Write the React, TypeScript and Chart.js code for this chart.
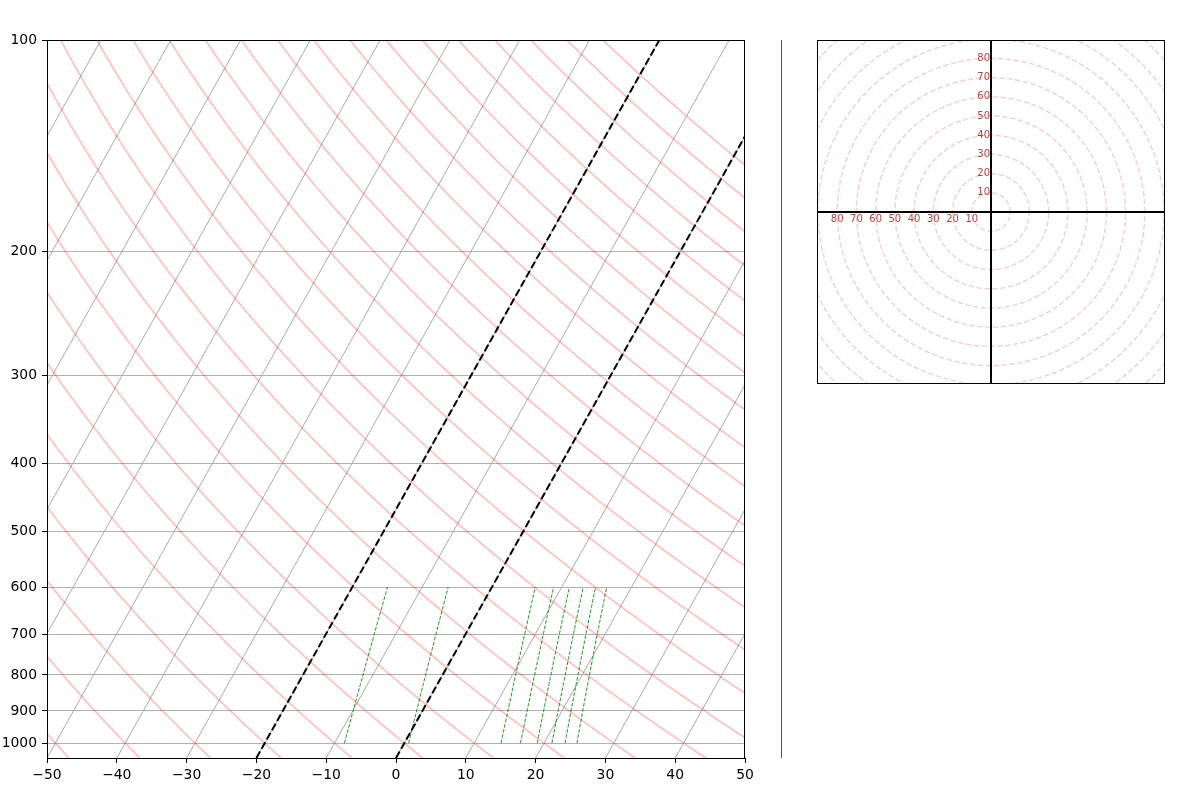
import React, { useEffect, useRef } from "react";
import { Chart, registerables } from "chart.js";

Chart.register(...registerables);

// ---- Skew-T axes ----
const P_TOP = 100;
const P_BOTTOM = 1050;
const SKEW_DEG = 30;
const X_MIN = -50;
const X_MAX = 50;

const yTicks = [100, 200, 300, 400, 500, 600, 700, 800, 900, 1000];
const xTicks = [-50, -40, -30, -20, -10, 0, 10, 20, 30, 40, 50];

// skewed grid isotherms (°C)
const isotherms = [-100, -90, -80, -70, -60, -50, -40, -30, -20, -10, 0, 10, 20, 30, 40, 50];
// highlighted dashed isotherms (°C)
const highlightIsotherms = [0, -20];
// dry adiabats: potential temperature (°C at 1000 hPa)
const dryAdiabats = [-50, -40, -30, -20, -10, 0, 10, 20, 30, 40, 50, 60, 70, 80, 90, 100, 110, 120, 130, 140, 150, 160, 170, 180, 190, 200];
// mixing ratio lines (g/kg) drawn from 1000 to 600 hPa
const mixingRatios = [2, 4, 10, 12, 14, 16, 18, 20];
const MIX_P_BOTTOM = 1000;
const MIX_P_TOP = 600;

// ---- Hodograph ----
const hodoRings = [10, 20, 30, 40, 50, 60, 70, 80, 90, 100, 110, 120, 130];
const hodoLabels = [10, 20, 30, 40, 50, 60, 70, 80];
const HODO_X_RANGE = 90.5;
const HODO_Y_RANGE = 89.6;

const FONT = "'DejaVu Sans', sans-serif";

function skewX(t: number, p: number): number {
  const frac = Math.log(P_BOTTOM / p) / Math.log(P_BOTTOM / P_TOP);
  return t + Math.tan((SKEW_DEG * Math.PI) / 180) * frac * (X_MAX - X_MIN);
}

function pressureLevels(pHigh: number, pLow: number, n: number): number[] {
  const out: number[] = [];
  for (let i = 0; i < n; i++) {
    out.push(Math.exp(Math.log(pLow) + ((Math.log(pHigh) - Math.log(pLow)) * i) / (n - 1)));
  }
  return out; // from pLow up to pHigh
}

function dewpointFromMixing(wGkg: number, p: number): number {
  const w = wGkg / 1000;
  const e = (p * w) / (0.622 + w);
  const l = Math.log(e / 6.112);
  return (243.5 * l) / (17.67 - l);
}

const minus = (v: number) => (v < 0 ? "\u2212" + Math.abs(v) : String(v));

const frame = {
  id: "frame",
  afterDraw(chart: any) {
    const { ctx, chartArea } = chart;
    ctx.save();
    ctx.strokeStyle = "#000";
    ctx.lineWidth = 1;
    const l = Math.round(chartArea.left) + 0.5;
    const t = Math.round(chartArea.top) + 0.5;
    const r = Math.round(chartArea.right) - 0.5;
    const b = Math.round(chartArea.bottom) + 0.5;
    ctx.strokeRect(l, t, r - l, b - t);
    ctx.restore();
  },
};

const hodoFrame = {
  id: "hodoFrame",
  afterDraw(chart: any) {
    const { ctx, chartArea, scales } = chart;
    ctx.save();
    ctx.fillStyle = "rgba(165,35,35,0.85)";
    ctx.font = `10px ${FONT}`;
    const x0 = scales.x.getPixelForValue(0);
    const y0 = scales.y.getPixelForValue(0);
    ctx.textBaseline = "middle";
    ctx.textAlign = "right";
    for (const r of hodoLabels) {
      ctx.fillText(String(r), x0 - 1, scales.y.getPixelForValue(r));
    }
    ctx.textAlign = "center";
    for (const r of hodoLabels) {
      ctx.fillText(String(r), scales.x.getPixelForValue(-r), y0 + 7.5);
    }
    ctx.strokeStyle = "#000";
    ctx.lineWidth = 1;
    ctx.strokeRect(chartArea.left + 0.5, chartArea.top + 0.5, chartArea.right - chartArea.left - 1, chartArea.bottom - chartArea.top - 1);
    ctx.restore();
  },
};

function SkewT() {
  const ref = useRef<HTMLCanvasElement>(null);
  useEffect(() => {
    if (!ref.current) return;
    const datasets: any[] = [];
    const levels = pressureLevels(P_BOTTOM, P_TOP, 90);

    for (const t of highlightIsotherms) {
      datasets.push({
        data: [
          { x: skewX(t, P_BOTTOM), y: P_BOTTOM },
          { x: skewX(t, P_TOP), y: P_TOP },
        ],
        borderColor: "#000",
        borderWidth: 2,
        borderDash: [7.4, 3.2],
        pointRadius: 0,
        clip: 0,
        order: 0,
      });
    }
    const mixLevels = pressureLevels(MIX_P_BOTTOM, MIX_P_TOP, 25).reverse();
    for (const w of mixingRatios) {
      datasets.push({
        data: mixLevels.map((p) => ({ x: skewX(dewpointFromMixing(w, p), p), y: p })),
        borderColor: "rgba(0,128,0,0.85)",
        borderWidth: 1,
        borderDash: [3.7, 1.6],
        pointRadius: 0,
        clip: 0,
        order: 1,
      });
    }
    for (const th of dryAdiabats) {
      const thK = th + 273.15;
      datasets.push({
        data: levels.map((p) => ({ x: skewX(thK * Math.pow(p / 1000, 0.2857) - 273.15, p), y: p })),
        borderColor: "rgba(255,0,0,0.24)",
        borderWidth: 1.8,
        pointRadius: 0,
        clip: 0,
        order: 2,
      });
    }
    for (const t of isotherms) {
      datasets.push({
        data: [
          { x: skewX(t, P_BOTTOM), y: P_BOTTOM },
          { x: skewX(t, P_TOP), y: P_TOP },
        ],
        borderColor: "#aaaaaa",
        borderWidth: 1,
        pointRadius: 0,
        clip: 0,
        order: 3,
      });
    }

    const chart = new Chart(ref.current, {
      type: "line",
      data: { datasets },
      options: {
        animation: false,
        responsive: false,
        maintainAspectRatio: false,
        events: [],
        layout: { padding: { left: 0, top: 40, right: 15, bottom: 0 } },
        plugins: { legend: { display: false }, tooltip: { enabled: false } },
        elements: { line: { tension: 0 }, point: { radius: 0 } },
        scales: {
          x: {
            type: "linear",
            min: X_MIN,
            max: X_MAX,
            afterBuildTicks: (s: any) => {
              s.ticks = xTicks.map((v) => ({ value: v }));
            },
            afterFit: (s: any) => {
              s.height = 40;
            },
            ticks: {
              autoSkip: false,
              maxRotation: 0,
              padding: 4,
              color: "#000",
              font: { family: FONT, size: 13.9 },
              callback: (v: any) => minus(Number(v)),
            },
            grid: { drawOnChartArea: false, drawTicks: true, tickLength: 5, tickColor: "#000", tickWidth: 1 },
            border: { display: false },
          },
          y: {
            type: "logarithmic",
            reverse: true,
            min: P_TOP,
            max: P_BOTTOM,
            afterBuildTicks: (s: any) => {
              s.ticks = yTicks.map((v) => ({ value: v }));
            },
            afterFit: (s: any) => {
              s.width = 47;
            },
            ticks: {
              autoSkip: false,
              padding: 5,
              color: "#000",
              font: { family: FONT, size: 13.9 },
              callback: (v: any) => String(v),
            },
            grid: { color: "#b0b0b0", lineWidth: 1, tickLength: 5, tickColor: "#000", tickWidth: 1 },
            border: { display: false },
          },
        },
      },
      plugins: [frame],
    });
    return () => chart.destroy();
  }, []);
  return (
    <canvas
      ref={ref}
      width={760}
      height={798}
      style={{ position: "absolute", left: 0, top: 0, width: 760, height: 798 }}
    />
  );
}

function Hodograph() {
  const ref = useRef<HTMLCanvasElement>(null);
  useEffect(() => {
    if (!ref.current) return;
    const datasets: any[] = [];
    datasets.push({
      data: [
        { x: 0, y: -200 },
        { x: 0, y: 200 },
      ],
      borderColor: "#000",
      borderWidth: 2,
      pointRadius: 0,
      clip: 0,
      order: 0,
    });
    datasets.push({
      data: [
        { x: -200, y: 0 },
        { x: 200, y: 0 },
      ],
      borderColor: "#000",
      borderWidth: 2,
      pointRadius: 0,
      clip: 0,
      order: 0,
    });
    const angles: number[] = [];
    for (let i = 0; i <= 180; i++) angles.push((i * 2 * Math.PI) / 180);
    for (const r of hodoRings) {
      datasets.push({
        data: angles.map((a) => ({ x: r * Math.cos(a), y: r * Math.sin(a) })),
        borderColor: "rgba(178,34,34,0.2)",
        borderWidth: 1.5,
        borderDash: [5.5, 2.4],
        pointRadius: 0,
        clip: 0,
        order: 1,
      });
    }
    const chart = new Chart(ref.current, {
      type: "line",
      data: { datasets },
      options: {
        animation: false,
        responsive: false,
        maintainAspectRatio: false,
        events: [],
        layout: { padding: 0 },
        plugins: { legend: { display: false }, tooltip: { enabled: false } },
        elements: { line: { tension: 0 }, point: { radius: 0 } },
        scales: {
          x: { type: "linear", min: -HODO_X_RANGE, max: HODO_X_RANGE, display: false },
          y: { type: "linear", min: -HODO_Y_RANGE, max: HODO_Y_RANGE, display: false },
        },
      },
      plugins: [hodoFrame],
    });
    return () => chart.destroy();
  }, []);
  return (
    <canvas
      ref={ref}
      width={348}
      height={344}
      style={{ position: "absolute", left: 817, top: 40, width: 348, height: 344 }}
    />
  );
}

export default function App() {
  return (
    <div style={{ position: "absolute", left: 0, top: 0, width: 1200, height: 798, background: "#fff", overflow: "hidden" }}>
      <SkewT />
      <div style={{ position: "absolute", left: 781, top: 40, width: 1, height: 718, background: "#555" }} />
      <Hodograph />
    </div>
  );
}
